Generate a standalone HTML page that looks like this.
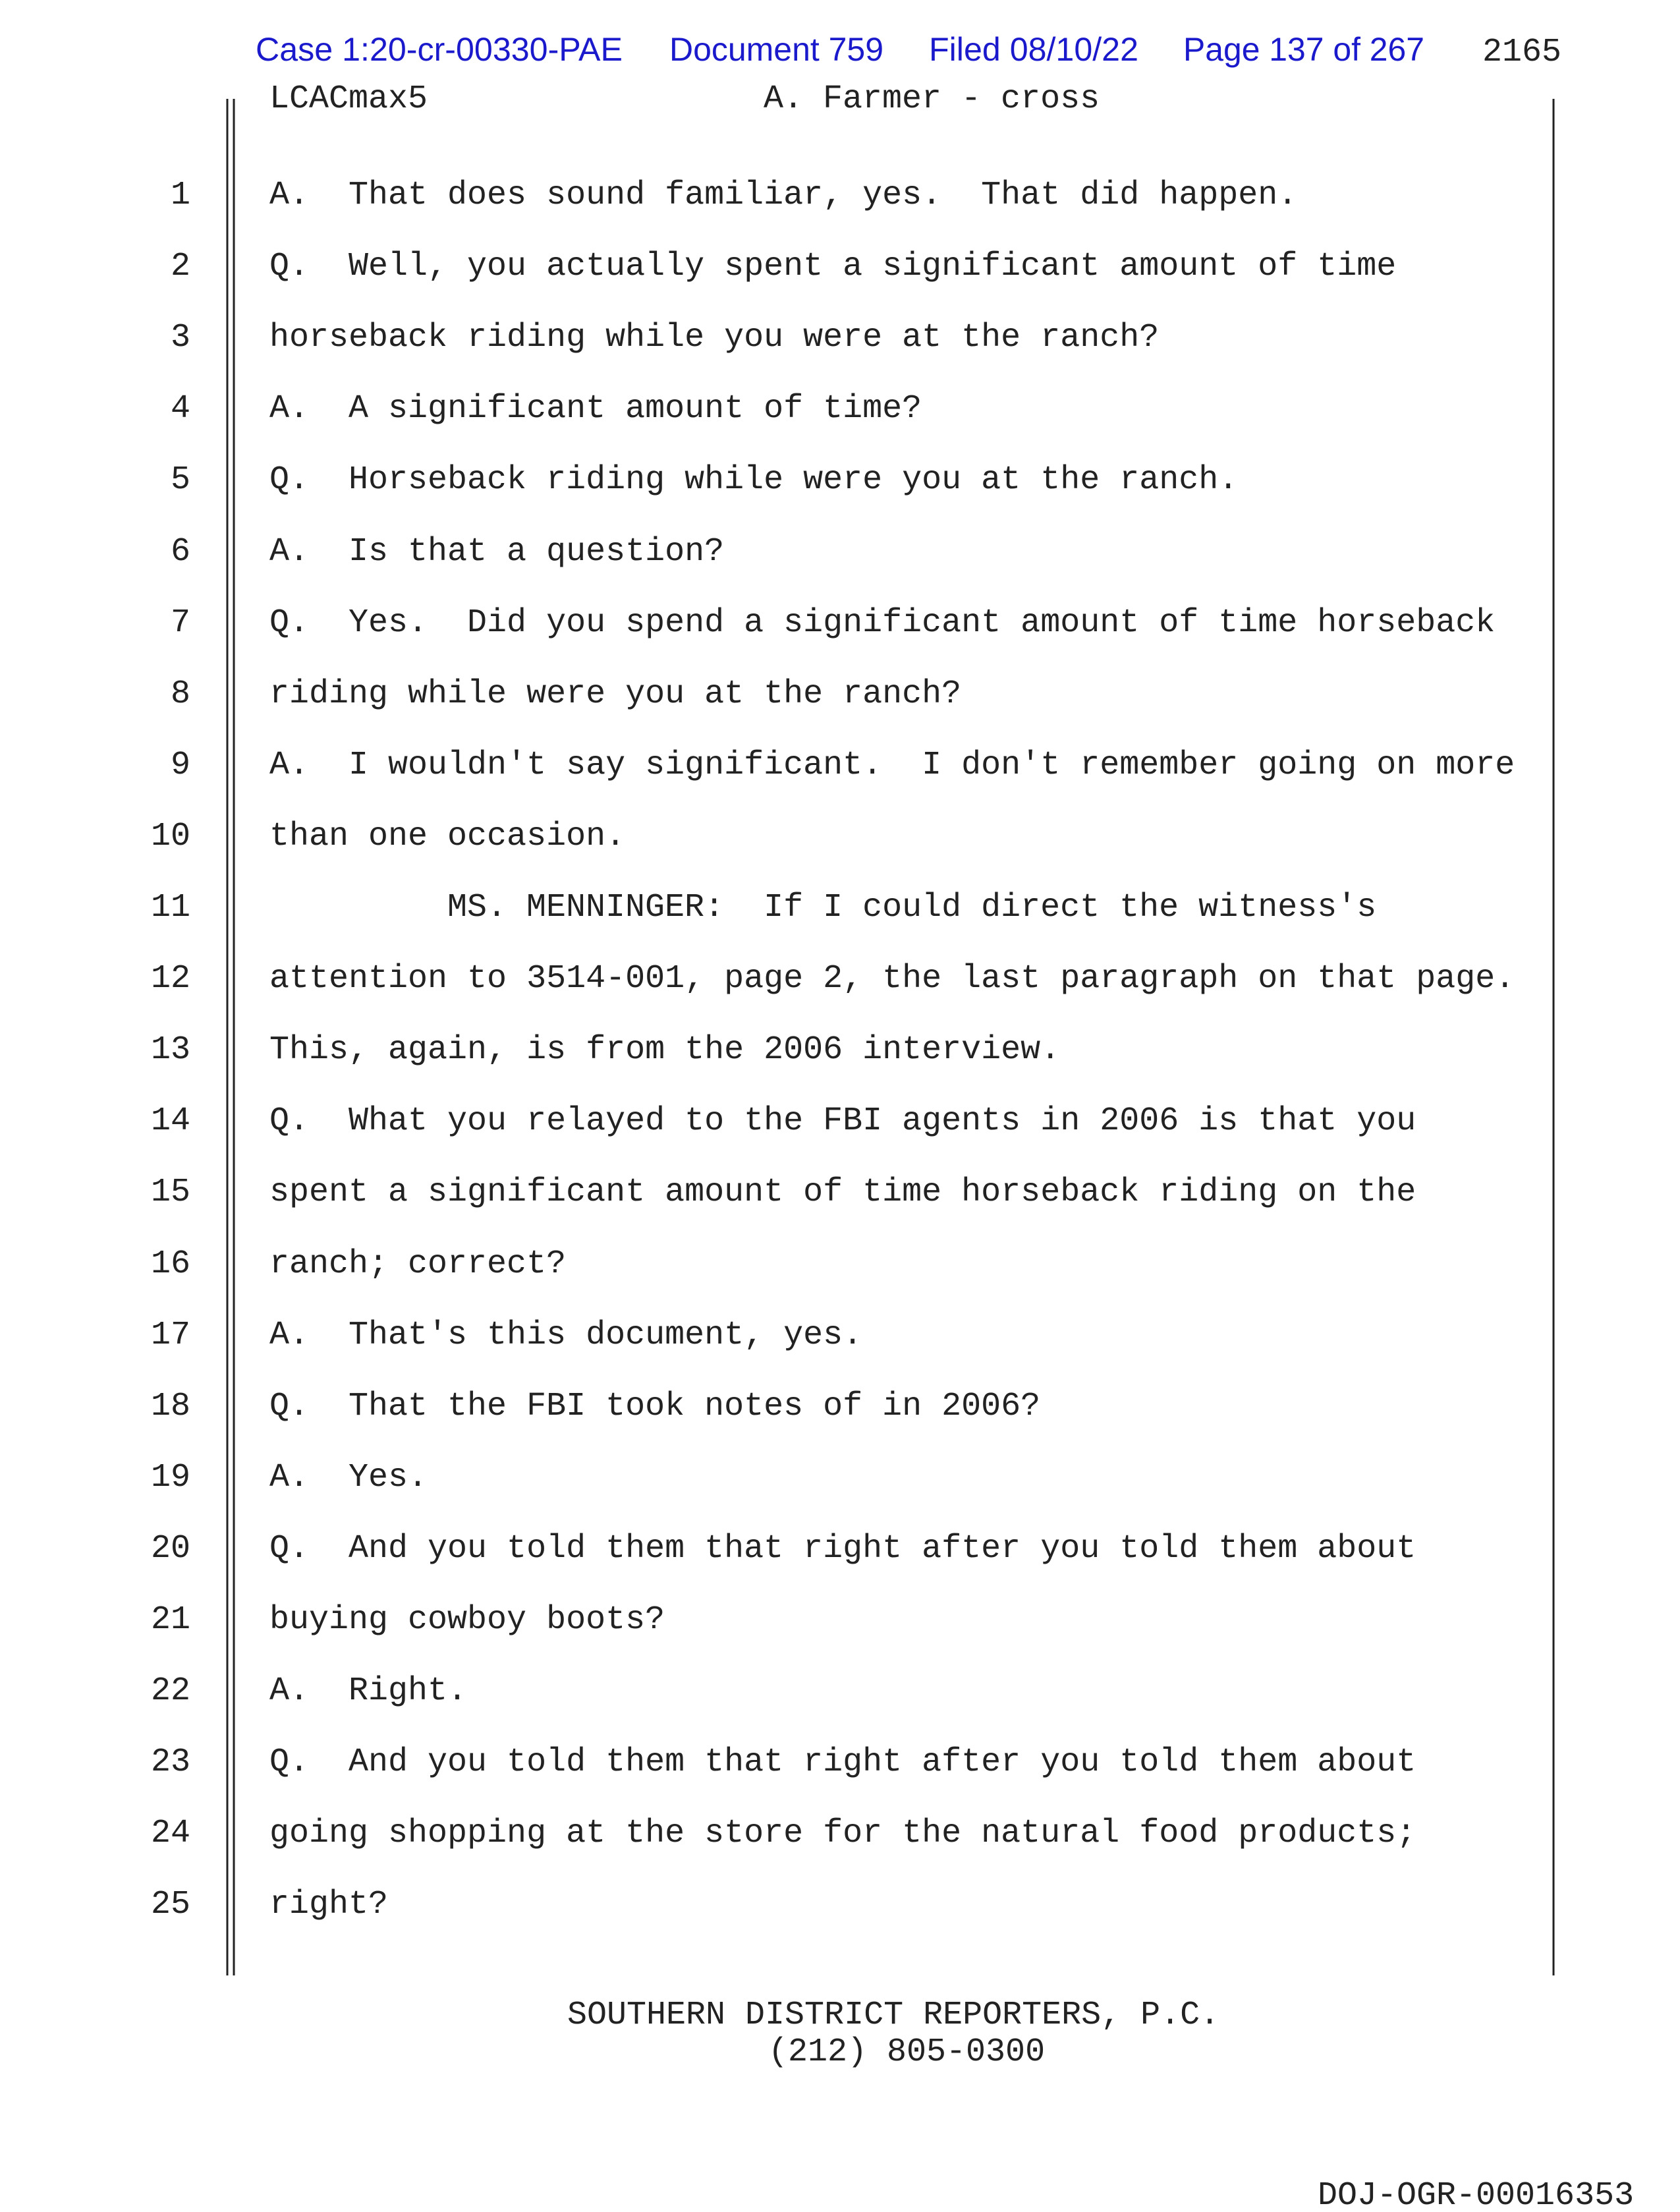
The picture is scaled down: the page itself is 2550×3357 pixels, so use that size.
<!DOCTYPE html>
<html><head><meta charset="utf-8"><style>
html,body{margin:0;padding:0;background:#fff;}
svg{display:block;}
.m{font-family:"Liberation Mono",monospace;font-size:50px;fill:#222;white-space:pre;}
.b{font-family:"Liberation Sans",sans-serif;font-size:50px;fill:#1a1acc;}
</style></head><body>
<svg width="2550" height="3357" viewBox="0 0 2550 3357" xmlns="http://www.w3.org/2000/svg">
<rect width="2550" height="3357" fill="#fff"/>
<text class="b" x="388" y="92" textLength="557" lengthAdjust="spacingAndGlyphs">Case 1:20-cr-00330-PAE</text>
<text class="b" x="1016" y="92" textLength="325" lengthAdjust="spacingAndGlyphs">Document 759</text>
<text class="b" x="1410" y="92" textLength="318" lengthAdjust="spacingAndGlyphs">Filed 08/10/22</text>
<text class="b" x="1796" y="92" textLength="366" lengthAdjust="spacingAndGlyphs">Page 137 of 267</text>
<text class="m" x="2250" y="92">2165</text>
<text class="m" x="409" y="163">LCACmax5</text>
<text class="m" x="1159" y="163">A. Farmer - cross</text>
<line x1="345" y1="150" x2="345" y2="2998" stroke="#222" stroke-width="3"/>
<line x1="355" y1="150" x2="355" y2="2998" stroke="#222" stroke-width="3"/>
<line x1="2358" y1="150" x2="2358" y2="2998" stroke="#222" stroke-width="3"/>
<g class="m" text-anchor="end">
<text x="289" y="309">1</text><text x="289" y="417">2</text><text x="289" y="525">3</text><text x="289" y="633">4</text><text x="289" y="741">5</text>
<text x="289" y="850">6</text><text x="289" y="958">7</text><text x="289" y="1066">8</text><text x="289" y="1174">9</text><text x="289" y="1282">10</text>
<text x="289" y="1390">11</text><text x="289" y="1498">12</text><text x="289" y="1606">13</text><text x="289" y="1714">14</text><text x="289" y="1822">15</text>
<text x="289" y="1931">16</text><text x="289" y="2039">17</text><text x="289" y="2147">18</text><text x="289" y="2255">19</text><text x="289" y="2363">20</text>
<text x="289" y="2471">21</text><text x="289" y="2579">22</text><text x="289" y="2687">23</text><text x="289" y="2795">24</text><text x="289" y="2903">25</text>
</g>
<g class="m">
<text x="409" y="309">A. &#160;That does sound familiar, yes. &#160;That did happen.</text>
<text x="409" y="417">Q. &#160;Well, you actually spent a significant amount of time</text>
<text x="409" y="525">horseback riding while you were at the ranch?</text>
<text x="409" y="633">A. &#160;A significant amount of time?</text>
<text x="409" y="741">Q. &#160;Horseback riding while were you at the ranch.</text>
<text x="409" y="850">A. &#160;Is that a question?</text>
<text x="409" y="958">Q. &#160;Yes. &#160;Did you spend a significant amount of time horseback</text>
<text x="409" y="1066">riding while were you at the ranch?</text>
<text x="409" y="1174">A. &#160;I wouldn't say significant. &#160;I don't remember going on more</text>
<text x="409" y="1282">than one occasion.</text>
<text x="679" y="1390">MS. MENNINGER: &#160;If I could direct the witness's</text>
<text x="409" y="1498">attention to 3514-001, page 2, the last paragraph on that page.</text>
<text x="409" y="1606">This, again, is from the 2006 interview.</text>
<text x="409" y="1714">Q. &#160;What you relayed to the FBI agents in 2006 is that you</text>
<text x="409" y="1822">spent a significant amount of time horseback riding on the</text>
<text x="409" y="1931">ranch; correct?</text>
<text x="409" y="2039">A. &#160;That's this document, yes.</text>
<text x="409" y="2147">Q. &#160;That the FBI took notes of in 2006?</text>
<text x="409" y="2255">A. &#160;Yes.</text>
<text x="409" y="2363">Q. &#160;And you told them that right after you told them about</text>
<text x="409" y="2471">buying cowboy boots?</text>
<text x="409" y="2579">A. &#160;Right.</text>
<text x="409" y="2687">Q. &#160;And you told them that right after you told them about</text>
<text x="409" y="2795">going shopping at the store for the natural food products;</text>
<text x="409" y="2903">right?</text>
</g>
<text class="m" x="861" y="3071">SOUTHERN DISTRICT REPORTERS, P.C.</text>
<text class="m" x="1166" y="3127">(212) 805-0300</text>
<text class="m" x="2000" y="3345">DOJ-OGR-00016353</text>
</svg>
</body></html>
